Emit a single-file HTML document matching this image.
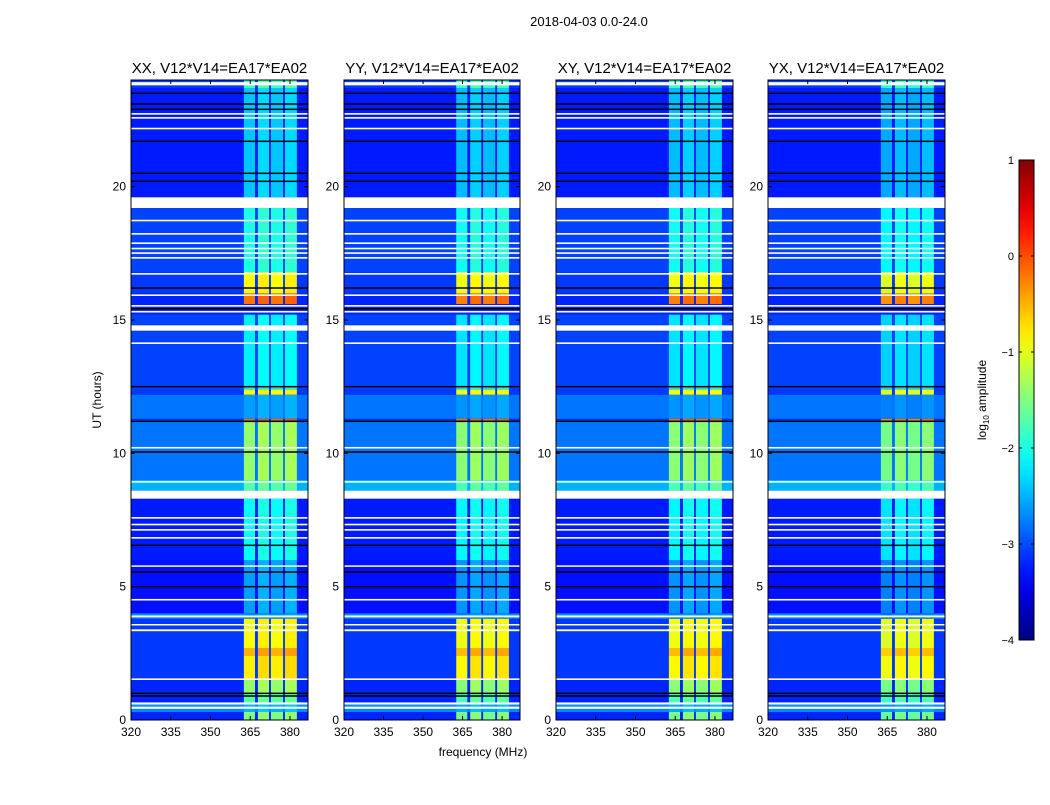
<!DOCTYPE html>
<html><head><meta charset="utf-8"><style>
body{margin:0;background:#fff;}
svg text{font-family:"Liberation Sans",sans-serif;fill:#000;}
</style></head><body>
<svg id="fig" width="1050" height="800" xmlns="http://www.w3.org/2000/svg">
<text x="589" y="26" font-size="13" text-anchor="middle">2018-04-03 0.0-24.0</text>
<text x="483" y="756" font-size="12" text-anchor="middle">frequency (MHz)</text>
<text x="0" y="0" font-size="12" text-anchor="middle" transform="translate(101,400) rotate(-90)">UT (hours)</text>
<text x="0" y="0" font-size="12" text-anchor="middle" transform="translate(986,400) rotate(-90)">log<tspan font-size="8" dy="3">10</tspan><tspan dy="-3"> amplitude</tspan></text>
</svg>
<script>
const panelTitles=["XX, V12*V14=EA17*EA02","YY, V12*V14=EA17*EA02","XY, V12*V14=EA17*EA02","YX, V12*V14=EA17*EA02"];
const panelOffsets=[0.05,0.0,0.0,-0.1];
const xTicks=[320,335,350,365,380];
const yTicks=[0,5,10,15,20];
const cbTicks=[1,0,-1,-2,-3,-4];
const cbLabels=["1","0","\u22121","\u22122","\u22123","\u22124"];
// RFI sub-bands in MHz
const bandStart=[362.6,367.9,372.8,378.1];
const bandEnd=[366.8,372.1,377.4,382.6];
// time segments: start hour, end hour, background log amp, RFI log amp
const segStart=[0,0.3,0.6,1.0,1.5,2.4,2.7,3.8,4.0,6.0,8.6,9.0,11.2,11.3,12.2,12.4,15.6,16.0,16.8,19.6,23.7];
const segEnd=[0.3,0.6,1.0,1.5,2.4,2.7,3.8,4.0,6.0,8.3,9.0,11.2,11.3,12.2,12.4,15.2,16.0,16.8,19.2,23.7,24];
const segBg=[-3.2,-2.7,-3.2,-3.2,-3.1,-3.1,-3.1,-2.7,-3.3,-3.25,-2.5,-2.8,-3.1,-2.8,-3.1,-3.05,-3.2,-3.1,-3.05,-3.25,-3.1];
const segRfi=[-1.5,-2.5,-1.7,-1.4,-0.8,-0.5,-0.9,-2.7,-2.6,-2.1,-1.7,-1.4,-0.1,-2.6,-0.9,-2.2,-0.2,-0.9,-2.0,-2.4,-1.8];
// flagged (white) intervals in hours
const flagStart=[0.42,0.58,1.5,3.33,3.55,3.85,4.48,5.75,6.8,7.1,7.3,7.55,8.3,8.9,10.18,14.1,14.6,15.28,15.5,15.9,16.7,17.3,17.48,17.65,17.85,18.2,18.7,19.2,22.15,22.55,22.7,23.8];
const flagEnd=[0.5,0.66,1.56,3.4,3.6,3.92,4.54,5.8,6.86,7.16,7.36,7.61,8.6,8.96,10.24,14.16,14.8,15.34,15.56,15.96,16.76,17.36,17.54,17.71,17.91,18.26,18.76,19.6,22.21,22.61,22.76,23.92];
// black (zero) rows in hours
const blackAt=[0.9,1.0,5.0,5.55,6.55,10.05,11.2,12.5,15.42,16.2,20.2,20.5,21.7,22.9,23.1,23.5];

const svg=document.getElementById('fig');
const NS='http://www.w3.org/2000/svg';
const panelX=[[131,308],[344,520],[556,733],[768,945]];
const yTop=80,yBot=720,fMin=320,fMax=386.8,tMax=24;
function jet(v){let t=(v+4)/5;t=Math.max(0,Math.min(1,t));
 const c=x=>Math.round(255*Math.max(0,Math.min(1,1.5-Math.abs(x))));
 return `rgb(${c(4*t-3)},${c(4*t-2)},${c(4*t-1)})`;}
function mk(tag,attrs,parent){const e=document.createElementNS(NS,tag);for(const k in attrs)e.setAttribute(k,attrs[k]);(parent||svg).appendChild(e);return e;}

panelX.forEach((px,p)=>{
 const [x0,x1]=px;
 const xs=f=>x0+(f-fMin)/(fMax-fMin)*(x1-x0);
 const ys=h=>yBot-h/tMax*(yBot-yTop);
 const g=mk('g',{});
 
 
 mk('rect',{x:x0,y:yTop,width:x1-x0,height:yBot-yTop,fill:jet(-3.2)},g);
 segStart.forEach((s,i)=>{
  const r=mk('rect',{x:x0,y:ys(segEnd[i]),width:x1-x0,height:ys(s)-ys(segEnd[i]),fill:jet(segBg[i])},g);
  
  
  bandStart.forEach((b,j)=>{
   const v=segRfi[i]+panelOffsets[p]+(j%2?0.05:-0.05);
   const c=mk('rect',{x:xs(b),y:ys(segEnd[i]),width:xs(bandEnd[j])-xs(b),height:ys(s)-ys(segEnd[i]),fill:jet(v)},g);
   
   
  });
 });
 blackAt.forEach(h=>{
  const l=mk('rect',{x:x0,y:ys(h)-0.75,width:x1-x0,height:1.5,fill:'#000'},g);
  
  
 });
 flagStart.forEach((s,i)=>{
  const l=mk('rect',{x:x0,y:ys(flagEnd[i]),width:x1-x0,height:Math.max(1.5,ys(s)-ys(flagEnd[i])),fill:'#fff'},g);
  
  
 });
 mk('rect',{x:x0,y:yTop,width:x1-x0,height:yBot-yTop,fill:'none',stroke:'#000','stroke-width':1},g);
 const t=mk('text',{x:(x0+x1)/2,y:73,'font-size':15,'text-anchor':'middle'},g);
 t.textContent=panelTitles[p];
 
 
 xTicks.forEach(f=>{
  const x=xs(f);
  mk('line',{x1:x,x2:x,y1:yBot,y2:yBot-4,stroke:'#000'},g);
  mk('line',{x1:x,x2:x,y1:yTop,y2:yTop+4,stroke:'#000'},g);
  const l=mk('text',{x:x,y:yBot+16,'font-size':12,'text-anchor':'middle'},g);
  l.textContent=f;
  
  
 });
 yTicks.forEach(h=>{
  const y=ys(h);
  mk('line',{x1:x0,x2:x0+4,y1:y,y2:y,stroke:'#000'},g);
  mk('line',{x1:x1,x2:x1-4,y1:y,y2:y,stroke:'#000'},g);
  const l=mk('text',{x:x0-5,y:y+4,'font-size':12,'text-anchor':'end'},g);
  l.textContent=h;
  
  
 });
});

// colorbar
const cb=mk('g',{});


const cbTop=160,cbBot=640,cbX=1019,cbW=15;
const defs=mk('defs',{},cb);
const grad=mk('linearGradient',{id:'jetg',x1:0,y1:1,x2:0,y2:0},defs);
for(let i=0;i<=20;i++){mk('stop',{offset:i/20,'stop-color':jet(-4+5*i/20)},grad);}
mk('rect',{x:cbX,y:cbTop,width:cbW,height:cbBot-cbTop,fill:'url(#jetg)',stroke:'#000'},cb);
const cy=v=>cbBot-(v+4)/5*(cbBot-cbTop);
cbTicks.forEach((v,i)=>{
 const y=cy(v);
 mk('line',{x1:cbX,x2:cbX+3,y1:y,y2:y,stroke:'#000'},cb);
 mk('line',{x1:cbX+cbW,x2:cbX+cbW-3,y1:y,y2:y,stroke:'#000'},cb);
 const l=mk('text',{x:cbX-5,y:y+4,'font-size':11,'text-anchor':'end'},cb);
 l.textContent=cbLabels[i];
 
 
});
</script>
</body></html>
